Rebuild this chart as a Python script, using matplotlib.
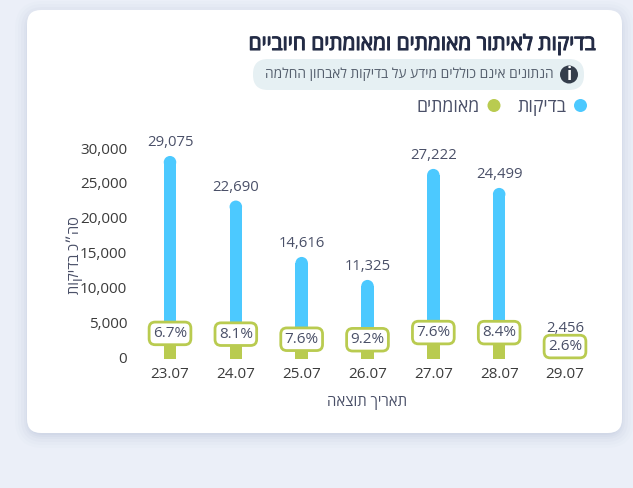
import matplotlib
matplotlib.use("Agg")
import matplotlib.pyplot as plt
from matplotlib.patches import FancyBboxPatch, Ellipse, Circle
from matplotlib.transforms import ScaledTranslation
import matplotlib.patheffects as pe

W, H = 633, 488

dates = ["23.07", "24.07", "25.07", "26.07", "27.07", "28.07", "29.07"]
tests = [29075, 22690, 14616, 11325, 27222, 24499, 2456]
percent_positive = [6.7, 8.1, 7.6, 9.2, 7.6, 8.4, 2.6]
y_ticks = [0, 5000, 10000, 15000, 20000, 25000, 30000]

title_text = "בדיקות לאיתור מאומתים ומאומתים חיוביים"
note_text = "הנתונים אינם כוללים מידע על בדיקות לאבחון החלמה"
legend_tests = "בדיקות"
legend_confirmed = "מאומתים"
x_title = "תאריך תוצאה"
y_title = "סה״כ בדיקות"

BLUE = "#4cc9ff"
GREEN = "#b9cb50"
BG = "#ebeff8"
NAVY = "#232b45"
SLATE = "#4a5068"
TICK = "#3b3b3b"

plt.rcParams["font.family"] = ["Open Sans", "Liberation Sans", "DejaVu Sans"]


def rtl(s):
    # The text engine has no bidi pass, so Hebrew is laid out in visual order.
    return s[::-1]


fig = plt.figure(figsize=(W / 100, H / 100), dpi=100, facecolor=BG)

# Page layer in pixel coordinates: card, shadow, heading block, legend.
page = fig.add_axes([0, 0, 1, 1], zorder=0)
page.set_xlim(0, W)
page.set_ylim(H, 0)
page.axis("off")

card_x, card_y, card_w, card_h = 27, 10, 595, 423
for grow, alpha in [(14, 0.025), (11, 0.03), (8, 0.04), (5, 0.05), (3, 0.06), (1, 0.07)]:
    page.add_patch(FancyBboxPatch(
        (card_x - grow + 2, card_y - grow + 5), card_w + 2 * grow - 4, card_h + 2 * grow - 4,
        boxstyle=f"round,pad=0,rounding_size={14 + grow}",
        fc="#8f9bc0", ec="none", alpha=alpha))
page.add_patch(FancyBboxPatch((card_x, card_y), card_w, card_h,
                              boxstyle="round,pad=0,rounding_size=14",
                              fc="white", ec="none"))

# The regular Hebrew cut is thickened with a thin stroke for the heading.
page.text(596, 44.5, rtl(title_text), ha="right", va="center",
          fontsize=15, color=NAVY,
          path_effects=[pe.withStroke(linewidth=0.8, foreground=NAVY)])

page.add_patch(FancyBboxPatch((253, 59), 331, 31,
                              boxstyle="round,pad=0,rounding_size=15",
                              fc="#e6f0f3", ec="none"))
page.add_patch(Circle((569, 74.5), 9, fc="#343d4b", ec="none"))
page.text(569, 74.5, "i", ha="center", va="center", color="white",
          fontsize=12, fontweight="bold")
page.text(553.5, 74.5, rtl(note_text), ha="right", va="center",
          fontsize=9.95, color="#56606e")

page.add_patch(Circle((580.5, 105.5), 6.5, fc=BLUE, ec="none"))
page.text(567, 106.5, rtl(legend_tests), ha="right", va="center",
          fontsize=12.8, color=SLATE)
page.add_patch(Circle((494, 105.5), 6.5, fc=GREEN, ec="none"))
page.text(480, 106.5, rtl(legend_confirmed), ha="right", va="center",
          fontsize=12.7, color=SLATE)

# Chart layer: category 0 sits at x=170 px, category 6 at x=565 px.
px_per_cat = (565 - 170) / 6
left, right = 170 - px_per_cat / 2, 565 + px_per_cat / 2
top_px, base_px = 149.5, 359
ax = fig.add_axes([left / W, 1 - base_px / H, (right - left) / W, (base_px - top_px) / H],
                  zorder=1)
ax.patch.set_alpha(0)
ax.set_xlim(-0.5, 6.5)
ax.set_ylim(0, 30000)
for s in ax.spines.values():
    s.set_visible(False)

bar_w = 12.5 / px_per_cat
cap_h = 6.25 * 30000 / (base_px - top_px)
xs = list(range(len(dates)))
confirmed = [t * p / 100 for t, p in zip(tests, percent_positive)]

# Blue columns have a rounded top; green columns sit in front of them.
ax.bar(xs, [t - cap_h for t in tests], width=bar_w, color=BLUE, zorder=2)
for x, t in zip(xs, tests):
    ax.add_patch(Ellipse((x, t - cap_h), bar_w, 2 * cap_h, fc=BLUE, ec="none", zorder=2))
ax.bar(xs, confirmed, width=bar_w, color=GREEN, zorder=3)

for x, t, c, p in zip(xs, tests, confirmed, percent_positive):
    ax.annotate(f"{t:,}", (x, t), xytext=(0, 6), textcoords="offset pixels",
                ha="center", va="bottom", fontsize=10.7, color=SLATE, zorder=4,
                annotation_clip=False)
    ax.annotate(f"{p}%", (x, c), xytext=(0, 12), textcoords="offset pixels",
                ha="center", va="center", fontsize=11, color=SLATE, zorder=5,
                bbox=dict(boxstyle="round,pad=0.25,rounding_size=0.4",
                          fc="white", ec=GREEN, lw=2.0))

ax.set_xticks(xs, dates)
ax.set_yticks(y_ticks, [f"{v:,}" for v in y_ticks])
ax.tick_params(axis="both", length=0, labelsize=11, labelcolor=TICK)
ax.tick_params(axis="x", pad=6)
ax.tick_params(axis="y", pad=7)
lift = ScaledTranslation(0, 1.5 / 100, fig.dpi_scale_trans)
for label in ax.get_yticklabels():
    label.set_transform(label.get_transform() + lift)

page.text(367.5, 402.5, rtl(x_title), ha="center", va="center", fontsize=10.7, color=SLATE)
page.text(74.5, 255, rtl(y_title), ha="center", va="center", rotation=90,
          fontsize=10.5, color=SLATE)

fig.savefig("out.png", dpi=100, facecolor=BG)
